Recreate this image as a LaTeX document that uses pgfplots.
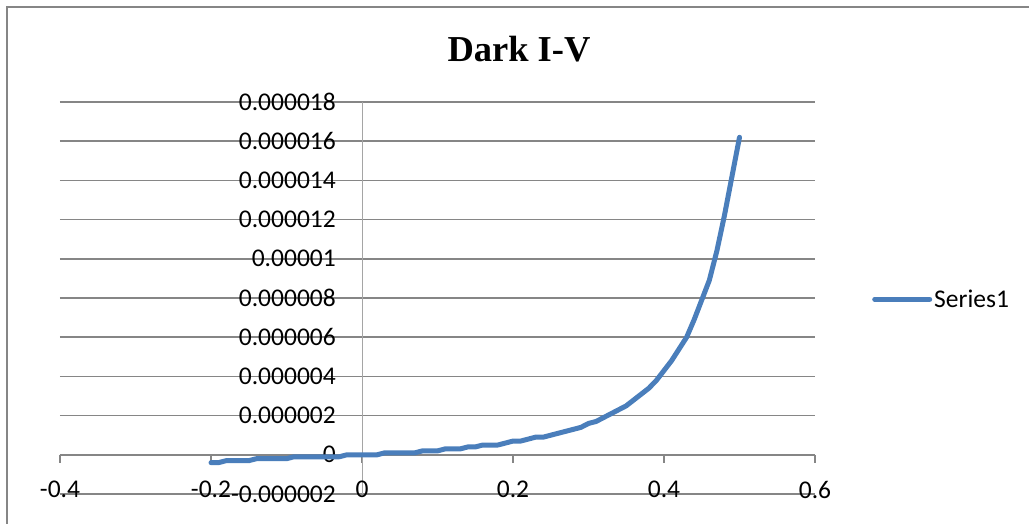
\documentclass[border=0pt]{standalone}
\usepackage{pgfplots}
\pgfplotsset{compat=1.18}
\usepackage{fontspec}
\setmainfont{Carlito}
\newfontfamily\titlefont{Liberation Serif}
\definecolor{exblue}{RGB}{74,126,187}
\definecolor{gridgray}{RGB}{134,134,134}
\definecolor{axgray}{RGB}{165,165,165}

\pgfplotstableread{
V     I
-0.20 -0.4e-6
-0.19 -0.4e-6
-0.18 -0.3e-6
-0.17 -0.3e-6
-0.16 -0.3e-6
-0.15 -0.3e-6
-0.14 -0.2e-6
-0.13 -0.2e-6
-0.12 -0.2e-6
-0.11 -0.2e-6
-0.10 -0.2e-6
-0.09 -0.1e-6
-0.08 -0.1e-6
-0.07 -0.1e-6
-0.06 -0.1e-6
-0.05 -0.1e-6
-0.04 -0.1e-6
-0.03 -0.1e-6
-0.02 0
-0.01 0
0.00  0
0.01  0
0.02  0
0.03  0.1e-6
0.04  0.1e-6
0.05  0.1e-6
0.06  0.1e-6
0.07  0.1e-6
0.08  0.2e-6
0.09  0.2e-6
0.10  0.2e-6
0.11  0.3e-6
0.12  0.3e-6
0.13  0.3e-6
0.14  0.4e-6
0.15  0.4e-6
0.16  0.5e-6
0.17  0.5e-6
0.18  0.5e-6
0.19  0.6e-6
0.20  0.7e-6
0.21  0.7e-6
0.22  0.8e-6
0.23  0.9e-6
0.24  0.9e-6
0.25  1.0e-6
0.26  1.1e-6
0.27  1.2e-6
0.28  1.3e-6
0.29  1.4e-6
0.30  1.6e-6
0.31  1.7e-6
0.32  1.9e-6
0.33  2.1e-6
0.34  2.3e-6
0.35  2.5e-6
0.36  2.8e-6
0.37  3.1e-6
0.38  3.4e-6
0.39  3.8e-6
0.40  4.3e-6
0.41  4.8e-6
0.42  5.4e-6
0.43  6.0e-6
0.44  6.9e-6
0.45  7.9e-6
0.46  8.9e-6
0.47  10.4e-6
0.48  12.2e-6
0.49  14.2e-6
0.50  16.2e-6
}\ivdata

\begin{document}
\begin{tikzpicture}
\path[use as bounding box] (-60pt,-29pt) rectangle (969pt,494pt);
\draw[gridgray, line width=2pt] (-53pt,-40pt) -- (-53pt,487pt) -- (990pt,487pt);
\node[font=\titlefont\bfseries\fontsize{36.5}{40}\selectfont, anchor=base] at (459pt,432pt) {Dark I-V};
\begin{axis}[
  at={(0pt,0pt)}, anchor=south west,
  scale only axis, width=755pt, height=392pt,
  xmin=-0.4, xmax=0.6, ymin=-2e-6, ymax=18e-6,
  axis lines=middle, axis line style={-},
  x axis line style={draw=gridgray, line width=1.5pt},
  y axis line style={draw=axgray, line width=1pt},
  xtick={-0.4,-0.2,0,0.2,0.4,0.6},
  xticklabels={-0.4,-0.2,0,0.2,0.4,0.6},
  ytick={-2e-6,0,2e-6,4e-6,6e-6,8e-6,10e-6,12e-6,14e-6,16e-6,18e-6},
  yticklabels={-0.000002,0,0.000002,0.000004,0.000006,0.000008,0.00001,0.000012,0.000014,0.000016,0.000018},
  scaled ticks=false,
  hide obscured x ticks=false, hide obscured y ticks=false,
  tick align=outside, major tick length=8pt,
  tick style={draw=gridgray, line width=1.2pt},
  ymajorgrids, grid style={draw=gridgray, line width=1.5pt},
  xticklabel style={anchor=north, yshift=-18pt},
  yticklabel style={anchor=east, xshift=-18pt},
  ticklabel style={font=\fontsize{25.5}{30}\selectfont, inner sep=0pt},
  legend style={at={(axis description cs:1.0755,0.497)}, anchor=west, draw=none, fill=none, inner sep=0pt,
    font=\fontsize{25.5}{30}\selectfont},
  legend image code/.code={\draw[#1] (0pt,0pt) -- (55pt,0pt);},
  clip=false,
]
\addplot[exblue, line width=5pt, line cap=round, line join=round] table[x=V,y=I] {\ivdata};
\addlegendentry{Series1}
\end{axis}
\end{tikzpicture}
\end{document}
